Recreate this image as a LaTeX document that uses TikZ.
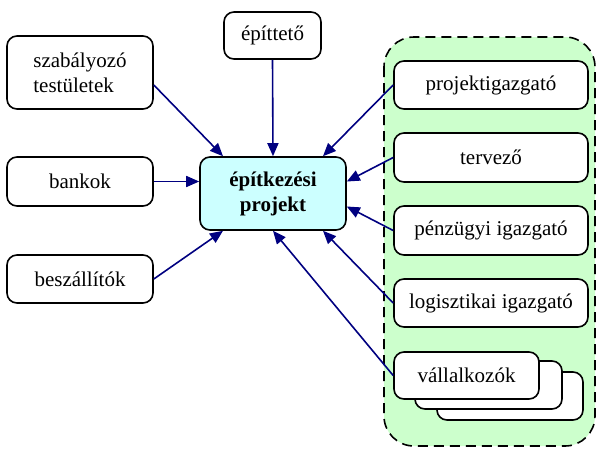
\documentclass[tikz,border=0pt]{standalone}
\usepackage{fontspec}
\setmainfont{Liberation Serif}
\usetikzlibrary{arrows.meta}
\definecolor{navyarrow}{HTML}{000080}
\definecolor{projfill}{HTML}{CCFFFF}
\definecolor{groupfill}{HTML}{CCFFCC}
\tikzset{
  box/.style={draw=black, line width=1.6pt, rounded corners=10pt, fill=white,
    inner sep=0pt, align=center, font=\fontsize{21}{25}\selectfont},
  conn/.style={draw=navyarrow, line width=1.6pt, -{Triangle[length=13pt,width=11pt]}},
}
\begin{document}
\begin{tikzpicture}[x=1pt,y=-1pt]
\useasboundingbox (0,0) rectangle (597,448);
% group container
\draw[fill=groupfill, line width=1.6pt, dash pattern=on 10pt off 6pt, rounded corners=30pt]
  (384,37) rectangle (595,446);
% left nodes
\node[box, minimum width=146pt, minimum height=73pt, align=left] (szab) at (80,72.5) {szabályozó\\testületek};
\node[box, minimum width=146pt, minimum height=49pt] (bankok) at (80,181.5) {bankok};
\node[box, minimum width=146pt, minimum height=48pt] (besz) at (80,279) {beszállítók};
\node[box, minimum width=97pt, minimum height=47pt] (epit) at (272.5,35.5) {építtető};
% central
\node[box, fill=projfill, minimum width=146pt, minimum height=73pt,
  font=\fontsize{21}{25}\selectfont\bfseries] (proj) at (273,193.5) {építkezési\\projekt};
% right nodes
\node[box, minimum width=194pt, minimum height=48pt] (pig) at (491,85) {projektigazgató};
\node[box, minimum width=194pt, minimum height=49pt] (terv) at (491,157.5) {tervező};
\node[box, minimum width=194pt, minimum height=49pt] (penz) at (491,230.5) {pénzügyi igazgató};
\node[box, minimum width=194pt, minimum height=48pt] (logi) at (491,303) {logisztikai igazgató};
\node[box, minimum width=146pt, minimum height=48pt] (vall3) at (510,396) {};
\node[box, minimum width=147pt, minimum height=48pt] (vall2) at (488.5,385) {};
\node[box, minimum width=145pt, minimum height=47pt] (vall) at (466.5,375.5) {vállalkozók};
% connectors
\draw[conn] ([yshift=-12.5pt]szab.east) -- ([xshift=-50pt]proj.north);
\draw[conn] (epit.south) -- (proj.north);
\draw[conn] (pig.west) -- ([xshift=50pt]proj.north);
\draw[conn] (bankok.east) -- ([yshift=12pt]proj.west);
\draw[conn] (terv.west) -- ([yshift=12pt]proj.east);
\draw[conn] (penz.west) -- ([yshift=-13pt]proj.east);
\draw[conn] (besz.east) -- ([xshift=-50pt]proj.south);
\draw[conn] (logi.west) -- ([xshift=50pt]proj.south);
\draw[conn] (vall.west) -- (proj.south);
\end{tikzpicture}
\end{document}
